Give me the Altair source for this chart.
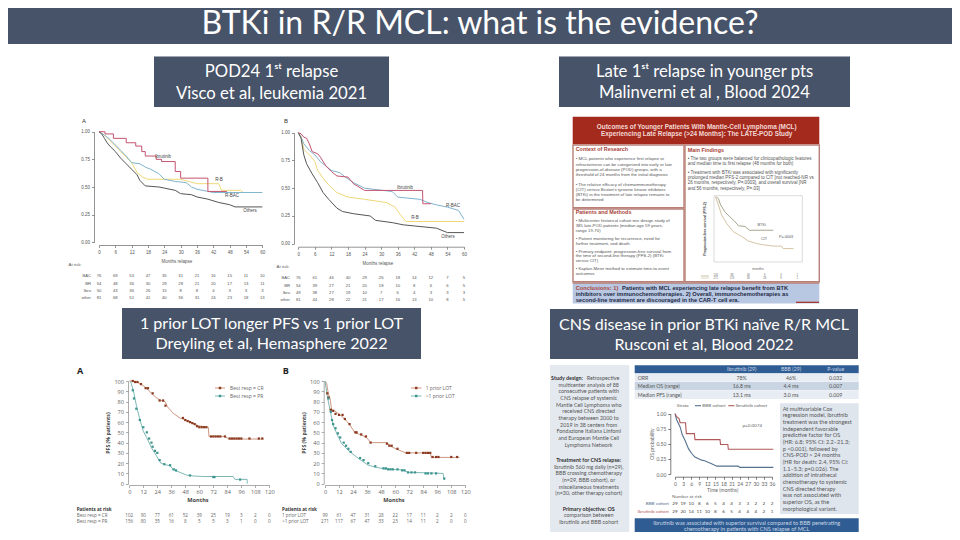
import altair as alt
import pandas as pd

# ---------- text ----------
MAIN_TITLE = "BTKi in R/R MCL: what is the evidence?"
HEAD_1 = ["POD24 1ˢᵗ relapse", "Visco et al, leukemia 2021"]
HEAD_2 = ["Late 1ˢᵗ relapse in younger pts", "Malinverni et al , Blood 2024"]
HEAD_3 = ["1 prior LOT longer PFS vs 1 prior LOT", "Dreyling et al, Hemasphere 2022"]
HEAD_4 = ["CNS disease in prior BTKi naïve R/R MCL", "Rusconi et al, Blood 2022"]

# ---------- Visco panel A ----------
VA_IBR_T = [0, 2.2, 5.3, 10, 13.5, 15.7, 17, 21, 23, 28, 30, 40, 47]
VA_IBR_S = [1, .98, .94, .90, .87, .82, .78, .75, .73, .64, .58, .46, .46]
VA_RB_T = [0, 2, 4, 6, 8, 10, 12, 14, 16, 18, 30, 33, 36, 44, 45, 52, 53, 60]
VA_RB_S = [1, .97, .92, .87, .82, .77, .72, .63, .59, .57, .57, .55, .53, .53, .47, .47, .45, .45]
VA_BAC_T = [0, 2, 4, 6, 8, 10, 12, 15, 17, 19, 22, 24, 28, 32, 34, 36, 40, 42, 60]
VA_BAC_S = [1, .97, .93, .88, .83, .78, .72, .71, .68, .66, .62, .57, .55, .54, .50, .48, .46, .45, .45]
VA_OTH_T = [0, 1, 2, 3, 4, 6, 8, 10, 12, 14, 15, 17, 22, 24, 28, 30, 34, 36, 40, 44, 48, 50, 60]
VA_OTH_S = [1, .98, .94, .90, .87, .82, .76, .71, .66, .61, .56, .51, .50, .49, .47, .44, .43, .41, .39, .36, .34, .32, .32]
VA_RISK = [[76, 69, 53, 47, 35, 31, 21, 16, 15, 11, 10], [54, 48, 36, 30, 29, 28, 21, 20, 17, 13, 11],
           [50, 43, 36, 26, 15, 8, 8, 4, 3, 3, 3], [81, 68, 51, 41, 40, 36, 31, 24, 23, 18, 13]]
# ---------- Visco panel B ----------
VB_IBR_T = [0, 1, 2, 3, 4, 5, 7, 8, 10, 12, 14, 18, 20, 24, 45, 45.1, 48]
VB_IBR_S = [1, .99, .96, .95, .90, .83, .81, .78, .70, .65, .61, .60, .54, .48, .48, .36, .36]
VB_RB_T = [0, 1, 2, 4, 6, 7, 9, 11, 14, 18, 24, 32, 35, 37, 39, 60]
VB_RB_S = [1, .97, .85, .80, .74, .66, .59, .53, .46, .42, .40, .37, .33, .26, .20, .20]
VB_BAC_T = [0, 1, 2, 4, 6, 8, 10, 12, 15, 17, 20, 24, 34, 36, 44, 47, 50, 54, 58, 60]
VB_BAC_S = [1, .96, .90, .84, .80, .74, .70, .66, .64, .60, .55, .50, .47, .42, .40, .37, .35, .33, .30, .22]
VB_OTH_T = [0, 1, 2, 3, 5, 7, 9, 11, 14, 16, 20, 26, 28, 34, 38, 42, 50, 54, 60]
VB_OTH_S = [1, .95, .80, .72, .63, .55, .46, .40, .32, .29, .27, .25, .21, .19, .17, .16, .14, .10, .10]
VB_RISK = [[76, 61, 46, 40, 29, 26, 18, 14, 12, 7, 5], [54, 39, 27, 21, 20, 18, 10, 8, 6, 6, 5],
           [49, 38, 27, 19, 10, 7, 6, 4, 3, 3, 3], [81, 44, 28, 22, 21, 17, 16, 13, 10, 8, 5]]
V_ROWS = ["BAC", "BR", "Ibru", "other"]
V_MONTHS = list(range(0, 61, 6))

# ---------- Malinverni ----------
LP_TITLE = ["Outcomes of Younger Patients With Mantle-Cell Lymphoma (MCL)",
            "Experiencing Late Relapse (>24 Months): The LATE-POD Study"]
LP_CONTEXT = ["• MCL patients who experience first relapse or",
              "refractoriness can be categorized into early or late",
              "progression-of-disease (POD) groups, with a",
              "threshold of 24 months from the initial diagnosis",
              "• The relative efficacy of chemoimmunotherapy",
              "(CIT) versus Bruton's tyrosine kinase inhibitors",
              "(BTKi) in the treatment of late relapse remains to",
              "be determined"]
LP_METHODS = ["• Multicenter historical cohort mix design study of",
              "385 late-POD patients (median age 59 years,",
              "range 19-70)",
              "• Patient monitoring for recurrence, need for",
              "further treatment, and death",
              "• Primary endpoint:  progression-free survival from",
              "the time of second-line therapy (PFS-2) (BTKi",
              "versus CIT)",
              "• Kaplan-Meier method to estimate time-to-event",
              "outcomes"]
LP_FINDINGS = ["• The two groups were balanced for clinicopathologic features",
               "and median time to first relapse (48 months for both)",
               "•  Treatment with BTKi was associated with significantly",
               "prolonged median PFS-2 compared to CIT [not reached-NR vs",
               "26 months, respectively, P=.0003], and overall survival [NR",
               "and 56 months, respectively, P=.03]"]
LP_CONCL = ["Patients with MCL experiencing late relapse benefit from BTK",
            "inhibitors over immunochemotherapies. 2) Overall, immunochemotherapies as",
            "second-line treatment are discouraged in the CAR-T cell era."]
LP_BTK_T = [0, 5, 9, 17, 26, 34, 42, 54, 62, 106]
LP_BTK_S = [1, .97, .87, .76, .68, .62, .54, .53, .47, .47]
LP_CIT_T = [0, 5, 11, 20, 32, 48, 60, 75, 88, 106, 121, 124, 143]
LP_CIT_S = [.99, .87, .71, .58, .45, .37, .30, .26, .24, .22, .22, .18, .18]

# ---------- Dreyling ----------
DA_CR_T = [0, 3.4, 9.1, 14.9, 19, 24, 27, 30.6, 32.6, 37.7, 43.4, 52, 59, 67.7, 68.3, 82, 85.4, 115]
DA_CR_S = [100, 100, 97.7, 92.9, 88, 83, 81, 80, 75, 68.5, 64, 60.7, 56.5, 55, 46, 46, 43.5, 43.5]
DA_PR_T = [1, 3.4, 6.3, 9, 12, 15, 19, 23.4, 27, 30.6, 35, 37.7, 43.4, 49, 55, 63, 89, 90.5, 101, 101.1]
DA_PR_S = [100, 91, 75, 62.6, 51, 44.8, 35, 26.9, 20, 18.5, 17.5, 13.6, 11, 8.4, 7.5, 7, 7, 4.2, 4.2, 0]
DA_CR_CT = [3, 5, 7, 10, 14, 16, 20, 26, 29, 31, 46, 48, 50, 52, 54, 56, 58, 60, 62, 64, 66, 70, 72, 74, 76, 78, 82, 86, 88, 90, 92, 94, 96, 103, 111, 114]
DA_CR_CS = [100, 99, 99, 97, 93, 93, 88, 81, 81, 76, 64, 62, 61, 60, 59, 58, 56, 55, 55, 55, 55, 46, 46, 46, 46, 46, 46, 44, 44, 44, 44, 44, 44, 44, 44, 44]
DA_PR_CT = [3, 4, 6, 9, 12, 15, 17, 19, 20, 22, 24, 26, 30, 35, 38, 40, 52, 72, 73, 95]
DA_PR_CS = [91, 83, 73, 62, 55, 50, 44, 40, 36, 32, 30, 23, 19, 18, 14, 13, 8, 6.5, 6.5, 4]
DB_1_T = [0, 1.4, 2.8, 4.3, 5.7, 8.5, 12.8, 17, 21.4, 25.6, 31, 35.6, 39, 53, 55.6, 61, 69, 90, 91, 115]
DB_1_S = [100, 97.7, 88, 83, 71.8, 70.8, 67, 63, 57, 49.7, 47.4, 45, 40, 40, 36.7, 33.8, 30, 30, 25.6, 25.6]
DB_2_T = [0, 2, 4.3, 7, 10, 14.2, 21.4, 28.5, 37, 44, 51.3, 67, 71, 84, 101, 101.7, 102.6]
DB_2_S = [100, 84.7, 71.8, 57, 49, 39, 31, 24.7, 18, 15.9, 14.3, 13.3, 11, 10.7, 10, 5.2, 4.2]
DB_1_CT = [2, 3, 5, 7, 9, 12, 15, 17, 21, 26, 27, 31, 35, 39, 53, 55, 57, 62, 70, 72, 78, 84, 86, 88, 90, 92, 95, 97, 108, 113]
DB_1_CS = [88, 84, 72, 71, 68, 67, 67, 63, 58, 50, 50, 48, 46, 40, 39, 37, 37, 34, 30, 30, 30, 30, 30, 30, 30, 26, 26, 26, 26, 26]
DB_2_CT = [3, 5, 6, 7, 9, 11, 13, 16, 18, 20, 22, 30, 33, 37, 43, 50, 52, 54, 56, 58, 62, 66, 68, 71, 74, 77, 86, 88, 91, 95, 102]
DB_2_CS = [83, 70, 62, 58, 54, 49, 45, 40, 37, 34, 31, 25, 23, 20, 17, 15, 15, 14, 14, 14, 14, 13, 13, 11, 11, 11, 10, 10, 10, 10, 5]
D_MONTHS = list(range(0, 121, 12))
DA_RISK = [[102, 90, 77, 61, 52, 39, 25, 19, 3, 2, 0], [156, 80, 35, 16, 8, 5, 5, 3, 1, 0, 0]]
DB_RISK = [[99, 61, 47, 31, 28, 22, 17, 11, 2, 2, 0], [271, 117, 67, 47, 33, 23, 14, 11, 2, 0, 0]]
DA_ROWS = ["Best resp = CR", "Best resp = PR"]
DB_ROWS = ["1 prior LOT", ">1 prior LOT"]

# ---------- Rusconi ----------
RC_LEFT_1 = ["Retrospective", "multicenter analysis of 88", "consecutive patients with", "CNS relapse of systemic",
             "Mantle Cell Lymphoma who", "received CNS directed", "therapy between 2000 to", "2019 in 38 centers from",
             "Fondazione Italiana Linfomi", "and European Mantle Cell", "Lymphoma Network"]
RC_LEFT_2 = ["Treatment for CNS relapse:", "Ibrutinib 560 mg daily (n=29),", "BBB crossing chemotherapy",
             "(n=29, BBB cohort), or", "miscellaneous treatments", "(n=30, other therapy cohort)"]
RC_LEFT_3 = ["Primary objective: OS", "comparison between", "ibrutinib and BBB cohort"]
RC_RIGHT = ["At multivariable Cox", "regression model, ibrutinib", "treatment was the strongest", "independent favorable",
            "predictive factor for OS", "(HR: 6.8; 95% CI: 2.2–21.3;", "p <0.001), followed by", "CNS-POD > 24 months",
            "(HR for death: 2.4, 95% CI:", "1.1–5.3; p=0.026). The", "addition of intrathecal", "chemotherapy to systemic",
            "CNS directed therapy", "was not associated with", "superior OS, as the", "morphological variant."]
RC_TABLE_HEAD = ["Ibrutinib (29)", "BBB (29)", "P-value"]
RC_TABLE = [["ORR", "78%", "46%", "0.032"], ["Median OS (range)", "16.8 ms", "4.4 ms", "0.007"],
            ["Median PFS (range)", "13.1 ms", "3.0 ms", "0.009"]]
RC_BOTTOM = ["Ibrutinib was associated with superior survival compared to BBB penetrating",
             "chemotherapy in patients with CNS relapse of MCL"]
RC_IBR_T = [0, .6, 1.5, 1.9, 3.9, 4.2, 7.2, 7.4, 16.7, 16.9, 19.6, 19.8, 36.5]
RC_IBR_S = [1, .95, .92, .85, .85, .67, .67, .57, .57, .49, .49, .41, .41]
RC_BBB_T = [0, .6, 1.9, 2.7, 3.7, 5, 6.2, 7.4, 9.9, 11, 13.6, 15.5, 23.5, 24, 36.5]
RC_BBB_S = [1, .90, .78, .65, .56, .42, .34, .28, .23, .22, .17, .13, .13, .11, .11]
RC_MONTHS = list(range(0, 37, 3))
RC_RISK = [[29, 19, 10, 8, 6, 5, 4, 4, 3, 3, 2, 2, 2], [29, 20, 14, 11, 10, 8, 6, 5, 4, 4, 4, 2, 1]]

# ---------- colours ----------
SLATE = "#475368"
SANS = "Liberation Sans"
LATO = "Lato"
H = 524
layers = []


def box(x0, y0, x1, y1, fill="none", stroke=None, sw=1):
    kw = dict(fill=fill)
    if stroke:
        kw.update(stroke=stroke, strokeWidth=sw)
    layers.append(alt.Chart().mark_rect(**kw).encode(
        x=alt.value(x0 - 8), x2=alt.value(x1 - 8), y=alt.value(y0 - 8), y2=alt.value(y1 - 8)))


def rule(x0, y0, x1, y1, color, sw=1):
    layers.append(alt.Chart().mark_rule(color=color, strokeWidth=sw).encode(
        x=alt.value(x0 - 8), x2=alt.value(x1 - 8), y=alt.value(y0 - 8), y2=alt.value(y1 - 8)))


def txt(s, x, y, size, color="#555555", align="center", weight="normal", font=SANS, angle=0):
    layers.append(alt.Chart().mark_text(fontSize=size, color=color, align=align, baseline="middle",
                                        fontWeight=weight, font=font, angle=angle).encode(
        x=alt.value(x - 8), y=alt.value(y - 8), text=alt.value(s)))


def sx(a, b, dom):
    return alt.Scale(domain=dom, range=[a - 8, b - 8], nice=False, zero=False)


def axis_style(**kw):
    return alt.Axis(title=None, grid=False, labelFlush=False, labelOverlap=False, labelPadding=2,
                    tickSize=kw.pop("ts", 2.5), tickWidth=.7, domainWidth=.7, **kw)


def curve(t, s, xs, ys, color, width=1.0, step=False, xaxis=None, yaxis=None, opacity=1):
    df = pd.DataFrame({"t": t, "s": s})
    mk = dict(color=color, strokeWidth=width, opacity=opacity)
    if step:
        mk["interpolate"] = "step-after"
    layers.append(alt.Chart(df).mark_line(**mk).encode(
        x=alt.X("t:Q", scale=xs, axis=xaxis), y=alt.Y("s:Q", scale=ys, axis=yaxis)))


def dots(t, s, xs, ys, color):
    df = pd.DataFrame({"t": t, "s": s})
    layers.append(alt.Chart(df).mark_point(shape="square", filled=True, size=5, color=color, opacity=1).encode(
        x=alt.X("t:Q", scale=xs, axis=None), y=alt.Y("s:Q", scale=ys, axis=None)))


def risk_row(months, vals, xs, y, size, color="#555555", font=SANS):
    df = pd.DataFrame({"t": months, "v": vals})
    layers.append(alt.Chart(df).mark_text(fontSize=size, color=color, font=font, baseline="middle").encode(
        x=alt.X("t:Q", scale=xs, axis=None), y=alt.value(y - 8), text="v:Q"))


# ---------- header + section bars ----------
box(0, 0, 960, 44, SLATE)
txt(MAIN_TITLE, 480, 24, 32, "white", font=LATO)
for (x0, y0, x1, y1, lines, yy, sz) in [
    (154, 56.5, 389, 107, HEAD_1, (72, 94), 16.7),
    (559, 56.5, 850, 107, HEAD_2, (72, 93), 16.7),
    (122, 308, 421, 359, HEAD_3, (324, 344), 16.1),
    (550, 309, 858, 359, HEAD_4, (325, 345), 16.0),
]:
    box(x0, y0, x1, y1, SLATE)
    for s, y in zip(lines, yy):
        txt(s, (x0 + x1) / 2, y, sz, "white", font=LATO)

# ---------- Visco ----------
C_IBR, C_RB, C_BAC, C_OTH = "#c4536f", "#efd877", "#7fb3cf", "#555555"
for (xa, xb, ya, yb, axx, axy, sets, risk, ry, labels, letter, rx, ar, mt, ibstep) in [
    (99, 262.3, 242.3, 131.7, 245, 94,
     [(VA_RB_T, VA_RB_S, C_RB), (VA_BAC_T, VA_BAC_S, C_BAC), (VA_OTH_T, VA_OTH_S, C_OTH), (VA_IBR_T, VA_IBR_S, C_IBR)],
     VA_RISK, (275.7, 283.7, 291.3, 298),
     [("Ibrutinib", 163, 157), ("R-B", 219, 180), ("R-BAC", 232, 196), ("Others", 250, 211)], ("A", 84, 121), 91,
     (75, 265), (177, 262), True),
    (298.3, 464, 243.7, 132.7, 246.7, 294,
     [(VB_RB_T, VB_RB_S, C_RB), (VB_BAC_T, VB_BAC_S, C_BAC), (VB_OTH_T, VB_OTH_S, C_OTH), (VB_IBR_T, VB_IBR_S, C_IBR)],
     VB_RISK, (278, 285.7, 293.3, 300.3),
     [("Ibrutinib", 405, 188), ("R-BAC", 453, 206), ("R-B", 415, 218), ("Others", 448, 237)], ("B", 286, 121), 290,
     (283, 267), (378, 264), False),
]:
    xs = sx(xa, xb, [0, 60])
    ys = sx(ya, yb, [0, 1])
    xax = axis_style(orient="bottom", values=V_MONTHS, labelFontSize=4.5, labelColor="#555", offset=-(H - (axx - 8)),
                     domainColor="#666", tickColor="#666", labelFont=SANS)
    yax = axis_style(orient="left", values=[0, .25, .5, .75, 1], format=".2f", labelFontSize=4.5, labelColor="#555",
                     offset=-(axy - 8), domainColor="#666", tickColor="#666", labelFont=SANS)
    for i, (t, s, c) in enumerate(sets):
        curve(t, s, xs, ys, c, 1.0, step=(i == 3 and ibstep), xaxis=xax if i == 0 else None, yaxis=yax if i == 0 else None)
    for (s, x, y) in labels:
        txt(s, x, y, 4.5, "#444")
    txt(letter[0], letter[1], letter[2], 6, "#333")
    txt("At risk:", ar[0], ar[1], 4.2, "#555", align="center")
    txt("Months relapse", mt[0], mt[1], 4.5, "#555")
    for row, vals, y in zip(V_ROWS, risk, ry):
        txt(row, rx, y, 4.2, "#555", align="right")
        risk_row(V_MONTHS, vals, xs, y, 4.2)

# ---------- Malinverni ----------
RED = "#a52a1e"
EDGE = "#b98078"
box(572.7, 116.7, 819.3, 144.3, RED)
for s, y in zip(LP_TITLE, (126.7, 134)):
    txt(s, 696.7, y, 6.4, "#f2d9d4", weight="bold")
box(573, 145, 684, 207.7, "white", EDGE, 1.4)
box(573, 209, 684, 281.7, "white", EDGE, 1.4)
box(685, 145, 819.3, 281.7, "white", EDGE, 1.4)
box(572.7, 283, 819.3, 303.5, "#b9c8e2")
rule(572.7, 283, 819.3, 283, EDGE, 1.5)
txt("Context of Research", 575.7, 149, 5.4, "#a8433a", align="left", weight="bold")
txt("Patients and Methods", 575.7, 212.3, 5.4, "#a8433a", align="left", weight="bold")
txt("Main Findings", 687.7, 149.7, 5.4, "#a8433a", align="left", weight="bold")
for s, zy in zip(LP_CONTEXT, (147, 164, 180, 195, 224, 240, 256, 271)):
    txt(s, 575.7, 110 + zy / 3, 4.35, "#555", align="left")
for s, zy in zip(LP_METHODS, (333, 349, 364, 386, 401, 425, 439, 453, 477, 491)):
    txt(s, 575.7, 110 + zy / 3, 4.35, "#555", align="left")
for s, zy in zip(LP_FINDINGS, (147, 162, 190, 205, 220, 236)):
    txt(s, 687.7, 110 + zy / 3, 4.55, "#555", align="left")
txt("Conclusions: 1)", 575.7, 287.7, 5.7, "#a8433a", align="left", weight="bold")
txt(LP_CONCL[0], 622, 287.7, 5.7, "#1f2a44", align="left", weight="bold")
txt(LP_CONCL[1], 575.7, 294, 5.7, "#1f2a44", align="left", weight="bold")
txt(LP_CONCL[2], 575.7, 300.3, 5.7, "#1f2a44", align="left", weight="bold")
rule(796, 302.3, 819, 302.3, RED, 1.2)
# KM plot in the infographic
xs = sx(715.7, 797.3, [0, 150])
ys = sx(260, 196.7, [0, 1])
box(714, 195.7, 802.3, 262, "none", "#cccccc", .7)
xax = axis_style(orient="bottom", values=[0, 30, 60, 90, 120, 150], labelFontSize=3.5, labelColor="#666",
                 offset=-(H - 254), domainOpacity=0, tickColor="#777", labelFont=SANS, ts=1.5)
yax = axis_style(orient="left", values=[0, .25, .5, .75, 1], format=".1f", labelFontSize=3.2, labelColor="#666",
                 offset=-(714 - 8), domainOpacity=0, tickColor="#777", labelFont=SANS, labelAngle=-90, ts=1.5)
curve(LP_BTK_T, LP_BTK_S, xs, ys, "#a8a68d", 1.0, xaxis=xax, yaxis=yax)
curve(LP_CIT_T, LP_CIT_S, xs, ys, "#d5c3a4", 1.0)
txt("BTKi", 761.7, 225, 3.8, "#555")
txt("CIT", 764, 239.3, 3.8, "#555")
txt("P=.0003", 786, 237, 3.8, "#555")
txt("months", 758, 269, 3.5, "#666")
txt("Progression-free survival (PFS-2)", 705, 229, 3.4, "#444", angle=270, weight="bold")
rule(701, 276, 709, 276, "#a8a68d", .7)
rule(701, 278, 709, 278, "#d5c3a4", .7)
for vals, y in (([134, 88, 40, 9, 3, 1], 275.8), ([271, 129, 69, 28, 9, 1], 278.4)):
    risk_row([0, 30, 60, 90, 120, 150], vals, xs, y, 2.6, "#666")

# ---------- Dreyling ----------
C_CR, C_PR = "#c88b73", "#6fb0ab"
M_CR, M_PR = "#8b3a20", "#3c958f"
GR = "#666666"
FS = "Open Sans"
for (xa, xb, axy, cr, crc, pr, prc, rows, risk, letter, tx, ylab, months, legx, legt) in [
    (129.3, 269.3, 128, (DA_CR_T, DA_CR_S), (DA_CR_CT, DA_CR_CS), (DA_PR_T, DA_PR_S), (DA_PR_CT, DA_PR_CS), DA_ROWS,
     DA_RISK, ("A", 80), 76.7, 107.7, 198, (215, 225), 230),
    (325, 465.3, 323.7, (DB_1_T, DB_1_S), (DB_1_CT, DB_1_CS), (DB_2_T, DB_2_S), (DB_2_CT, DB_2_CS), DB_ROWS,
     DB_RISK, ("B", 285.7), 282, 303.7, 394, (411, 421.5), 425.7),
]:
    xs = sx(xa, xb, [0, 120])
    ys = sx(483.7, 381, [0, 100])
    xax = axis_style(orient="bottom", values=D_MONTHS, labelFontSize=5.6, labelColor=GR, offset=-(H - 477),
                     domainColor="#888", tickColor="#888", labelFont=FS)
    yax = axis_style(orient="left", values=list(range(0, 101, 10)), labelFontSize=5.6, labelColor=GR,
                     offset=-(axy - 8), domainColor="#888", tickColor="#888", labelFont=FS)
    curve(cr[0], cr[1], xs, ys, C_CR, .9, xaxis=xax, yaxis=yax)
    curve(pr[0], pr[1], xs, ys, C_PR, .9)
    dots(crc[0], crc[1], xs, ys, M_CR)
    dots(prc[0], prc[1], xs, ys, M_PR)
    txt(letter[0], letter[1], 371, 9, "#222", weight="bold", font=FS)
    txt("PFS (% patients)", ylab, 433, 5.2, "#444", angle=270, weight="bold", font=FS)
    txt("Months", months, 499.7, 5.6, "#444", weight="bold", font=FS)
    txt("Patients at risk", tx, 510, 4.6, "#333", align="left", weight="bold", font=FS)
    for row, vals, y in zip(rows, risk, (516.3, 522.3)):
        txt(row, tx, y, 4.6, GR, align="left", font=FS)
        risk_row(D_MONTHS, vals, xs, y, 4.6, GR, FS)
    for row, y, c, m in zip(rows, (388, 396), (C_CR, C_PR), (M_CR, M_PR)):
        rule(legx[0], y, legx[1], y, c, .9)
        layers.append(alt.Chart().mark_point(shape="square", filled=True, size=6, color=m, opacity=1).encode(
            x=alt.value((legx[0] + legx[1]) / 2 - 8), y=alt.value(y - 8)))
        txt(row, legt, y, 5, GR, align="left", font=FS)

# ---------- Rusconi ----------
BLUE = "#2f5d93"
PALE = "#e4e9ef"
box(550, 365, 629.3, 535, PALE)
box(780, 403.3, 858.7, 514, "#dfe5ed")
box(634.7, 365.3, 858.7, 373.3, BLUE)
box(634.7, 373.7, 858.7, 381.7, "#e8edf3")
box(634.7, 382, 858.7, 390, "#c9d5e2")
box(634.7, 390.3, 858.7, 399, "#e8edf3")
box(634.7, 518.3, 858.7, 535, BLUE)
F4 = LATO
for s, x in zip(RC_TABLE_HEAD, (741.7, 791, 835.7)):
    txt(s, x, 369.3, 5.2, "#c8d6e6", font=F4)
for row, y in zip(RC_TABLE, (378, 386, 394.7)):
    txt(row[0], 637.7, y, 5.2, "#555", align="left", font=F4)
    for s, x in zip(row[1:], (741.7, 791, 835.7)):
        txt(s, x, y, 5.2, "#555", font=F4)
txt("Study design:", 567, 378, 5.4, "#333", weight="bold", font=F4)
for i, s in enumerate(RC_LEFT_1):
    if i == 0:
        txt(s, 603, 378, 5.4, "#555", font=F4)
    else:
        txt(s, 588.7, 378 + i * 6.67, 5.4, "#555", font=F4)
for i, s in enumerate(RC_LEFT_2):
    txt(s, 588.7, 460 + i * 6.67, 5.4, "#333" if i == 0 else "#555", weight="bold" if i == 0 else "normal", font=F4)
txt(RC_LEFT_3[0], 588.7, 508.7, 5.4, "#333", weight="bold", font=F4)
for i, s in enumerate(RC_LEFT_3[1:]):
    txt(s, 588.7, 515.3 + i * 6.67, 5.4, "#555", font=F4)
for i, s in enumerate(RC_RIGHT):
    txt(s, 782.7, 408.7 + i * 6.67, 5.6, "#555", align="left", font=F4)
for s, y in zip(RC_BOTTOM, (523, 529.3)):
    txt(s, 746.7, y, 5.6, "#c8d6e6", font=F4)

xs = sx(675, 772, [0, 36])
ys = sx(474, 413.7, [0, 1])
xax = axis_style(orient="bottom", values=RC_MONTHS, labelFontSize=5, labelColor=GR, offset=-(H - (476.7 - 8)),
                 domainColor="#444", tickColor="#444", labelFont=F4)
yax = axis_style(orient="left", values=[0, .25, .5, .75, 1], format=".2f", labelFontSize=5, labelColor=GR,
                 offset=-(670.3 - 8), domainColor="#444", tickColor="#444", labelFont=F4)
curve(RC_BBB_T, RC_BBB_S, xs, ys, "#55718f", 1.1, xaxis=xax, yaxis=yax)
curve(RC_IBR_T, RC_IBR_S, xs, ys, "#b0585a", 1.1)
txt("Strata", 682.7, 405.7, 4.6, GR, font=F4)
rule(695, 405.7, 701, 405.7, "#55718f", 1.1)
txt("BBB cohort", 702.3, 405.7, 4.6, GR, align="left", font=F4)
rule(728.3, 405.7, 734.3, 405.7, "#b0585a", 1.1)
txt("Ibrutinib cohort", 735.7, 405.7, 4.6, GR, align="left", font=F4)
txt("p=0.0074", 752.3, 426, 4.6, GR, font=F4)
txt("Time (months)", 722.7, 490, 5, GR, font=F4)
txt("OS probability", 651.7, 444, 5, GR, angle=270, font=F4)
txt("Number at risk", 672, 497.3, 4.6, GR, align="left", font=F4)
for s, vals, y, c in zip(("BBB cohort", "Ibrutinib cohort"), RC_RISK, (504.3, 511.7), ("#55718f", "#b0585a")):
    txt(s, 669, y, 4.6, c, align="right", font=F4)
    risk_row(RC_MONTHS, vals, xs, y, 4.6, "#444", F4)

chart = alt.layer(*layers).resolve_scale(x="independent", y="independent").properties(
    width=944, height=524, padding=0, autosize="none", background="white"
).configure_view(stroke=None)

chart.save("out.html", embed_options={"renderer": "svg", "actions": False})
